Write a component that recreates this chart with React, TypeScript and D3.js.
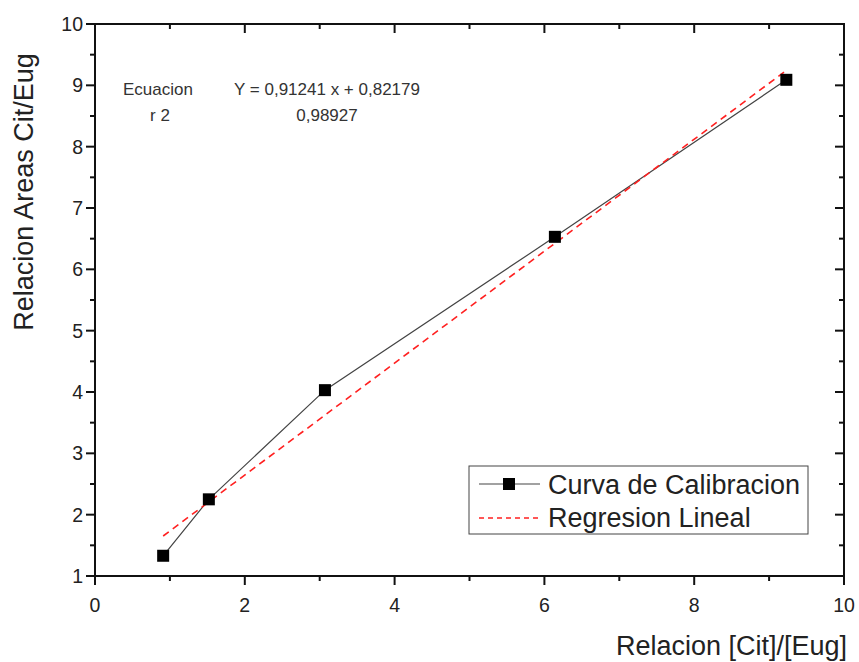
import React from "react";
import * as d3 from "d3";

const xValues = [0.91, 1.52, 3.07, 6.14, 9.23];
const yValues = [1.33, 2.25, 4.03, 6.53, 9.09];
const slope = 0.91241;
const intercept = 0.82179;
const xTicks = [0, 2, 4, 6, 8, 10];
const yTicks = [1, 2, 3, 4, 5, 6, 7, 8, 9, 10];
const legendLabels = ["Curva de Calibracion", "Regresion Lineal"];

const W = 859;
const H = 662;
const left = 95, right = 844, top = 24, bottom = 576;

export default function App() {
  const x = d3.scaleLinear().domain([0, 10]).range([left, right]);
  const y = d3.scaleLinear().domain([1, 10]).range([bottom, top]);
  const pts = xValues.map((v, i) => [v, yValues[i]] as [number, number]);
  const line = d3.line<[number, number]>().x(d => x(d[0])).y(d => y(d[1]));
  const x0 = d3.min(xValues)!, x1 = d3.max(xValues)!;
  const reg: [number, number][] = [[x0, slope * x0 + intercept], [x1, slope * x1 + intercept]];
  const xMinor = d3.range(1, 10, 2);
  const yMinor = d3.range(1.5, 10, 1);
  const font = "'Liberation Sans', Arial, sans-serif";
  const ax = "#111";
  return (
    <svg width={W} height={H} style={{ position: "absolute", left: 0, top: 0, background: "#fff" }} fontFamily={font}>
      <rect x={0} y={0} width={W} height={H} fill="#fff" />
      {/* frame */}
      <rect x={left} y={top} width={right - left} height={bottom - top} fill="none" stroke={ax} strokeWidth={2} />
      {/* x ticks */}
      {xTicks.map(t => (
        <g key={"xt" + t}>
          <line x1={x(t)} x2={x(t)} y1={bottom} y2={bottom + 9} stroke={ax} strokeWidth={2} />
          <line x1={x(t)} x2={x(t)} y1={top} y2={top + 9} stroke={ax} strokeWidth={2} />
          <text x={x(t)} y={bottom + 36} textAnchor="middle" fontSize={19.5} fill="#222">{t}</text>
        </g>
      ))}
      {xMinor.map(t => (
        <g key={"xm" + t}>
          <line x1={x(t)} x2={x(t)} y1={bottom} y2={bottom + 5} stroke={ax} strokeWidth={2} />
          <line x1={x(t)} x2={x(t)} y1={top} y2={top + 5} stroke={ax} strokeWidth={2} />
        </g>
      ))}
      {/* y ticks */}
      {yTicks.map(t => (
        <g key={"yt" + t}>
          <line x1={left - 9} x2={left} y1={y(t)} y2={y(t)} stroke={ax} strokeWidth={2} />
          <line x1={right - 9} x2={right} y1={y(t)} y2={y(t)} stroke={ax} strokeWidth={2} />
          <text x={left - 12} y={y(t) + 7} textAnchor="end" fontSize={19.5} fill="#222">{t}</text>
        </g>
      ))}
      {yMinor.map(t => (
        <g key={"ym" + t}>
          <line x1={left - 5} x2={left} y1={y(t)} y2={y(t)} stroke={ax} strokeWidth={2} />
          <line x1={right - 5} x2={right} y1={y(t)} y2={y(t)} stroke={ax} strokeWidth={2} />
        </g>
      ))}
      {/* axis titles */}
      <text transform={`translate(33,192) rotate(-90)`} textAnchor="middle" fontSize={27} fill="#222">Relacion Areas Cit/Eug</text>
      <text x={847} y={655} textAnchor="end" fontSize={27} fill="#222">Relacion [Cit]/[Eug]</text>
      {/* data */}
      <path d={line(pts)!} fill="none" stroke="#444" strokeWidth={1.2} />
      <path d={line(reg)!} fill="none" stroke="#ff2020" strokeWidth={1.6} strokeDasharray="7,5" />
      {pts.map((p, i) => (
        <rect key={"p" + i} x={x(p[0]) - 6} y={y(p[1]) - 6} width={12} height={12} fill="#000" />
      ))}
      {/* annotation */}
      <g fontSize={17} fill="#333">
        <text x={158} y={95} textAnchor="middle">Ecuacion</text>
        <text x={160} y={121} textAnchor="middle">r 2</text>
        <text x={327} y={95} textAnchor="middle">Y = 0,91241 x + 0,82179</text>
        <text x={327} y={121} textAnchor="middle">0,98927</text>
      </g>
      {/* legend */}
      <rect x={469} y={466} width={339} height={68} fill="#fff" stroke="#444" strokeWidth={1} />
      <line x1={479} x2={540} y1={484} y2={484} stroke="#444" strokeWidth={1.2} />
      <rect x={503} y={478} width={12} height={12} fill="#000" />
      <line x1={479} x2={540} y1={518} y2={518} stroke="#ff2020" strokeWidth={1.6} strokeDasharray="5,4" />
      <text x={548} y={494} fontSize={27} fill="#222">{legendLabels[0]}</text>
      <text x={548} y={527} fontSize={27} fill="#222">{legendLabels[1]}</text>
    </svg>
  );
}
